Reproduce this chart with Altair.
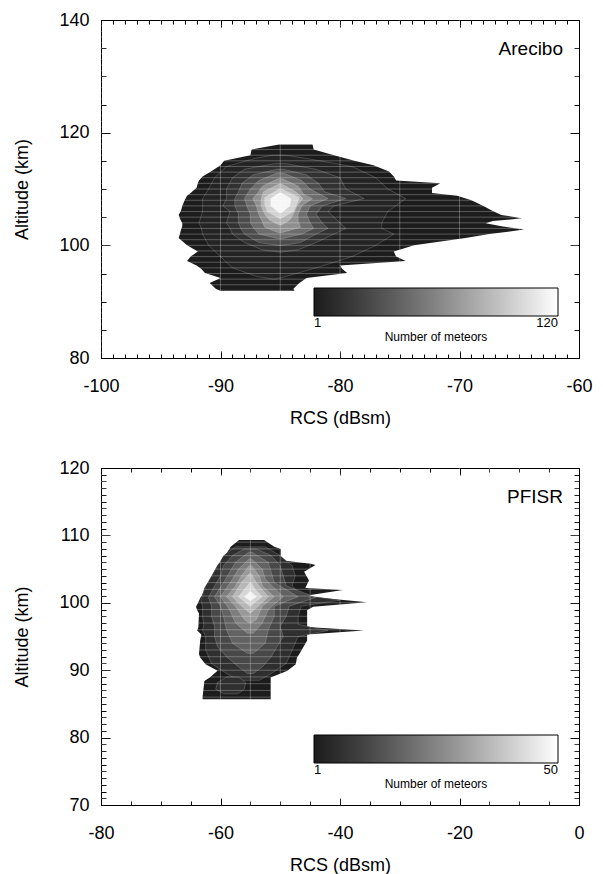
import altair as alt
import pandas as pd

FONT = "Liberation Sans"

# ---------------- Arecibo (top panel) ----------------
are_rcs_domain = [-100, -60]
are_alt_domain = [80, 140]
are_rcs_major = [-100, -90, -80, -70, -60]
are_alt_major = [80, 100, 120, 140]
are_rcs_minor = list(range(-100, -59, 1))
are_alt_minor = list(range(80, 141, 5))
are_rcs_grid = [-95, -90, -85, -80, -75, -70, -65]
are_alt_grid = list(range(81, 140, 1))
are_count_max = 120
are_levels = [1, 6, 15, 30, 48, 66, 84, 100, 116]

# contour bands: (altitude km, left RCS dBsm, right RCS dBsm)
are_c1 = [(91.9, -90.0, -83.8), (92.3, -90.4, -83.9), (93.3, -90.9, -83.4), (94.2, -90.0, -82.8),
          (95.1, -91.3, -79.4), (95.8, -91.6, -79.8), (96.4, -92.0, -80.0), (97.2, -92.8, -74.5),
          (98.0, -92.5, -75.3), (98.9, -91.9, -75.5), (100.0, -92.8, -73.8), (101.3, -93.5, -69.5),
          (102.0, -93.4, -67.5), (102.8, -93.3, -64.6), (103.4, -93.2, -66.5), (103.9, -93.2, -67.8),
          (104.3, -93.3, -67.2), (104.8, -93.4, -64.8), (105.4, -93.5, -66.5), (106.2, -93.3, -67.3),
          (107.0, -93.2, -68.0), (108.0, -93.0, -69.0), (108.8, -92.8, -70.2), (109.3, -92.5, -72.3),
          (110.2, -92.0, -72.3), (111.0, -91.9, -71.6), (111.5, -91.8, -75.3), (112.2, -91.5, -75.5),
          (113.1, -90.8, -75.9), (114.2, -90.0, -77.2), (115.0, -89.7, -78.8), (116.0, -87.5, -80.5),
          (117.0, -87.4, -82.2), (117.9, -85.1, -82.3)]
are_c2 = [(94.0, -85.6, -85.4), (94.5, -87.0, -84.5), (96.0, -89.0, -82.0), (98.0, -90.0, -79.0),
          (100.0, -91.0, -77.0), (102.0, -91.5, -75.5), (103.0, -91.6, -76.5), (104.0, -91.8, -76.5),
          (106.0, -91.5, -76.0), (108.3, -91.5, -74.5), (110.0, -91.0, -76.0), (112.0, -90.5, -77.0),
          (114.0, -89.5, -79.0), (115.5, -87.0, -83.0), (116.0, -85.6, -84.6)]
are_c3 = [(98.8, -85.1, -84.9), (99.2, -86.5, -83.5), (100.5, -88.0, -82.0), (102.0, -89.0, -80.5),
          (103.0, -89.2, -79.5), (104.0, -89.5, -80.0), (106.0, -89.2, -81.0), (107.0, -89.8, -80.5),
          (108.3, -89.5, -78.0), (110.0, -89.5, -79.5), (112.0, -89.0, -80.0), (113.5, -88.0, -82.0),
          (114.5, -85.5, -84.5)]
are_c4 = [(100.0, -85.2, -84.8), (100.5, -86.8, -83.3), (102.0, -88.0, -82.0), (103.0, -88.3, -81.0),
          (104.0, -88.5, -81.5), (105.5, -88.5, -82.0), (107.0, -88.8, -81.5), (108.3, -88.8, -79.5),
          (109.5, -88.5, -81.3), (111.0, -88.2, -81.8), (112.5, -87.3, -82.8), (113.5, -85.3, -84.7)]
are_c5 = [(101.2, -85.2, -84.8), (102.0, -86.8, -83.2), (103.0, -87.2, -82.2), (104.0, -87.5, -82.5),
          (105.5, -87.5, -82.8), (107.0, -87.8, -82.5), (108.3, -88.0, -81.0), (110.0, -87.5, -82.5),
          (111.5, -86.8, -83.2), (112.8, -85.3, -84.7)]
are_c6 = [(102.3, -85.2, -84.8), (103.2, -86.3, -83.3), (104.2, -86.5, -83.5), (105.5, -86.8, -83.5),
          (107.0, -87.0, -83.2), (108.3, -87.3, -82.3), (109.0, -87.0, -83.0), (110.5, -86.5, -83.5),
          (111.8, -85.2, -84.8)]
are_c7 = [(103.6, -85.1, -84.9), (104.5, -85.9, -84.2), (105.5, -86.3, -83.9), (107.0, -86.6, -83.6),
          (108.3, -86.6, -83.1), (109.5, -86.4, -83.7), (110.9, -85.1, -84.9)]
are_c8 = [(104.8, -85.1, -84.9), (106.0, -86.1, -83.9), (107.3, -86.3, -83.6), (108.5, -86.3, -83.4),
          (110.0, -85.1, -84.9)]
are_c9 = [(105.8, -85.1, -84.9), (107.0, -85.8, -84.2), (108.3, -85.8, -84.1), (109.3, -85.1, -84.9)]
are_bands = [are_c1, are_c2, are_c3, are_c4, are_c5, are_c6, are_c7, are_c8, are_c9]

# ---------------- PFISR (bottom panel) ----------------
pf_rcs_domain = [-80, 0]
pf_alt_domain = [70, 120]
pf_rcs_major = [-80, -60, -40, -20, 0]
pf_alt_major = [70, 80, 90, 100, 110, 120]
pf_rcs_minor = list(range(-80, 1, 5))
pf_alt_minor = list(range(70, 121, 1))
pf_rcs_grid = list(range(-75, 0, 5))
pf_alt_grid = list(range(71, 120, 1))
pf_count_max = 50
pf_levels = [1, 6, 6, 12, 18, 24, 30, 36, 42, 48]

pf_c1 = [(85.7, -63.0, -51.6), (86.0, -63.0, -51.6), (88.4, -62.7, -51.6), (88.9, -61.8, -51.6),
         (89.9, -60.5, -48.8), (90.9, -62.5, -47.4), (91.9, -63.4, -47.2), (92.4, -63.6, -46.8),
         (94.4, -63.4, -45.5), (95.3, -63.2, -45.5), (95.9, -63.9, -36.0), (96.4, -63.7, -45.5),
         (98.4, -63.6, -45.5), (98.9, -63.9, -45.5), (99.4, -64.1, -44.5), (100.1, -63.7, -35.5),
         (100.9, -63.3, -45.0), (101.1, -63.1, -45.5), (101.9, -62.8, -39.5), (102.2, -62.7, -45.8),
         (103.3, -61.8, -45.2), (104.6, -61.1, -46.0), (105.6, -60.5, -44.1), (105.8, -60.3, -44.9),
         (106.3, -59.6, -49.9), (106.8, -59.4, -49.9), (108.0, -58.5, -49.9), (108.3, -58.3, -51.0),
         (109.3, -56.9, -52.7)]
pf_c2 = [(88.5, -57.0, -53.5), (89.5, -59.0, -51.5), (91.0, -61.5, -49.0), (93.0, -62.5, -48.0),
         (95.0, -62.5, -47.0), (95.9, -63.0, -42.0), (96.8, -62.8, -47.0), (98.0, -63.0, -47.0),
         (99.5, -63.0, -46.5), (100.4, -63.3, -40.0), (101.2, -63.0, -46.5), (102.5, -62.5, -48.0),
         (104.0, -61.5, -47.5), (105.5, -60.5, -48.0), (107.0, -59.5, -50.0), (108.3, -57.5, -52.5)]
pf_c2b = [(86.5, -59.5, -57.0), (87.2, -60.8, -56.0), (88.2, -60.5, -55.8), (89.0, -59.0, -57.0)]
pf_c3 = [(89.5, -55.5, -54.5), (90.5, -57.0, -53.0), (92.0, -59.0, -51.5), (93.5, -60.5, -50.5),
         (95.0, -61.0, -49.5), (96.5, -61.0, -50.0), (98.0, -61.5, -49.0), (99.5, -61.5, -48.5),
         (100.8, -62.0, -44.0), (102.5, -61.0, -49.0), (104.0, -60.0, -49.5), (105.5, -59.5, -50.0),
         (107.0, -58.0, -51.5), (108.0, -56.0, -54.0)]
pf_c4 = [(92.5, -55.5, -54.5), (94.0, -58.0, -52.5), (96.0, -59.0, -52.0), (98.0, -59.5, -51.0),
         (99.5, -60.0, -51.0), (100.9, -61.0, -47.0), (103.0, -59.5, -51.0), (104.5, -58.5, -51.5),
         (106.0, -57.5, -52.0), (107.5, -55.3, -54.7)]
pf_c5 = [(95.5, -55.5, -54.5), (97.0, -57.5, -53.0), (99.0, -58.5, -52.0), (100.9, -60.0, -49.5),
         (103.5, -58.0, -52.5), (105.0, -57.0, -53.0), (106.5, -55.2, -54.8)]
pf_c6 = [(97.0, -55.1, -54.9), (97.5, -56.0, -54.0), (99.5, -57.5, -53.0), (100.9, -59.0, -51.0),
         (102.5, -57.5, -53.0), (104.0, -56.5, -53.5), (105.5, -55.2, -54.8)]
pf_c7 = [(98.5, -55.1, -54.9), (99.5, -56.5, -53.7), (100.9, -58.0, -52.0), (103.0, -56.5, -54.0),
         (104.3, -55.2, -54.8)]
pf_c8 = [(99.5, -55.1, -54.9), (100.0, -55.8, -54.3), (100.9, -57.0, -53.0), (102.0, -56.0, -54.2),
         (103.0, -55.1, -54.9)]
pf_c9 = [(100.3, -55.05, -54.95), (100.9, -56.0, -54.0), (101.7, -55.05, -54.95)]
pf_bands = [pf_c1, pf_c2, pf_c2b, pf_c3, pf_c4, pf_c5, pf_c6, pf_c7, pf_c8, pf_c9]

W = 478
H_TOP = 338
H_BOT = 337


def tick_axis(values, orient, offset, size):
    return alt.Axis(orient=orient, offset=offset, values=values, labels=False, ticks=True,
                    tickSize=size, tickColor="black", tickWidth=1, domain=False, grid=False,
                    title=None)


def panel(name, bands, levels, xdom, ydom, xmaj, xmin, ymaj, ymin, xgrid, ygrid,
          cmax, H, xtick, ytick):
    xs = alt.Scale(domain=xdom, nice=False, zero=False)
    ys = alt.Scale(domain=ydom, nice=False, zero=False)
    cs = alt.Scale(domain=[1, cmax], range=["#1c1c1c", "#ffffff"])
    leg = alt.Legend(orient="none", legendX=213, legendY=H - 70, direction="horizontal",
                     gradientLength=244, gradientThickness=28, values=[1, cmax],
                     title="Number of meteors", titleOrient="bottom", titleAnchor="middle",
                     titleFontSize=12, titleFontWeight="normal", titleFont=FONT,
                     titleColor="black", titlePadding=2,
                     labelFont=FONT, labelFontSize=13, labelColor="black", labelOffset=1,
                     gradientStrokeColor="black", gradientStrokeWidth=1,
                     labelOverlap=False, padding=0)
    layers = []
    for i, (band, n) in enumerate(zip(bands, levels)):
        df = pd.DataFrame(band, columns=["alt", "lo", "hi"])
        df["n"] = n
        layers.append(
            alt.Chart(df).mark_area(orient="horizontal", stroke="#ffffff",
                                    strokeOpacity=0.0 if i == 0 else 0.3, strokeWidth=0.6)
            .encode(y=alt.Y("alt:Q", scale=ys, axis=None),
                    x=alt.X("lo:Q", scale=xs, axis=None),
                    x2="hi:Q",
                    color=alt.Color("n:Q", scale=cs, legend=leg))
        )
    # light grid lines drawn over the contours (under the colour bar)
    layers.append(
        alt.Chart(pd.DataFrame({"v": xgrid})).mark_rule(color="#ffffff", opacity=0.35,
                                                        strokeWidth=0.8)
        .encode(x=alt.X("v:Q", scale=xs, axis=None))
    )
    layers.append(
        alt.Chart(pd.DataFrame({"v": ygrid})).mark_rule(color="#ffffff", opacity=0.35,
                                                        strokeWidth=0.8)
        .encode(y=alt.Y("v:Q", scale=ys, axis=None))
    )
    base = alt.Chart(pd.DataFrame({"x": [xdom[0]], "y": [ydom[0]]})).mark_point(opacity=0)

    def ax(xaxis, yaxis):
        return base.encode(x=alt.X("x:Q", scale=xs, axis=xaxis),
                           y=alt.Y("y:Q", scale=ys, axis=yaxis))

    lab_x = alt.Axis(orient="bottom", values=xmaj, ticks=False, tickSize=0, domain=False,
                     grid=False, labelFontSize=18, labelPadding=19,
                     labelExpr="'' + datum.value", labelFlush=False, labelOverlap=False,
                     title="RCS (dBsm)", titleFontSize=18, titleFontWeight="normal",
                     titlePadding=14)
    lab_y = alt.Axis(orient="left", values=ymaj, ticks=False, tickSize=0, domain=False,
                     grid=False, labelFontSize=18, labelPadding=12,
                     labelExpr="'' + datum.value", labelFlush=False, labelOverlap=False,
                     title="Altitude (km)", titleFontSize=18, titleFontWeight="normal",
                     titlePadding=27)
    layers.append(ax(lab_x, lab_y))
    layers.append(ax(tick_axis(xmaj, "top", -H, xtick[0]), tick_axis(ymaj, "right", -W, ytick[0])))
    layers.append(ax(tick_axis(xmin, "top", -H, xtick[1]), tick_axis(ymin, "right", -W, ytick[1])))
    layers.append(ax(tick_axis(xmaj, "bottom", -H, xtick[0]), tick_axis(ymaj, "left", -W, ytick[0])))
    layers.append(ax(tick_axis(xmin, "bottom", -H, xtick[1]), tick_axis(ymin, "left", -W, ytick[1])))
    layers.append(
        alt.Chart(pd.DataFrame({"t": [name]})).mark_text(
            align="right", baseline="middle", fontSize=19, font=FONT, color="black")
        .encode(text="t:N", x=alt.value(W - 16), y=alt.value(29))
    )
    return alt.layer(*layers).resolve_axis(x="independent", y="independent").properties(
        width=W, height=H)


top = panel("Arecibo", are_bands, are_levels, are_rcs_domain, are_alt_domain,
            are_rcs_major, are_rcs_minor, are_alt_major, are_alt_minor,
            are_rcs_grid, are_alt_grid, are_count_max, H_TOP, (7, 4), (9, 5))
bot = panel("PFISR", pf_bands, pf_levels, pf_rcs_domain, pf_alt_domain,
            pf_rcs_major, pf_rcs_minor, pf_alt_major, pf_alt_minor,
            pf_rcs_grid, pf_alt_grid, pf_count_max, H_BOT, (7, 4), (9, 5))

chart = (
    alt.vconcat(top, bot, spacing=30)
    .resolve_scale(color="independent")
    .properties(padding={"left": 13, "top": 10, "right": 4, "bottom": 0}, background="white")
    .configure_view(stroke="black", strokeWidth=1)
    .configure_axis(labelFont=FONT, titleFont=FONT, labelColor="black", titleColor="black")
    .configure_text(font=FONT)
)

chart.save("out.html", embed_options={"renderer": "svg", "actions": False})
